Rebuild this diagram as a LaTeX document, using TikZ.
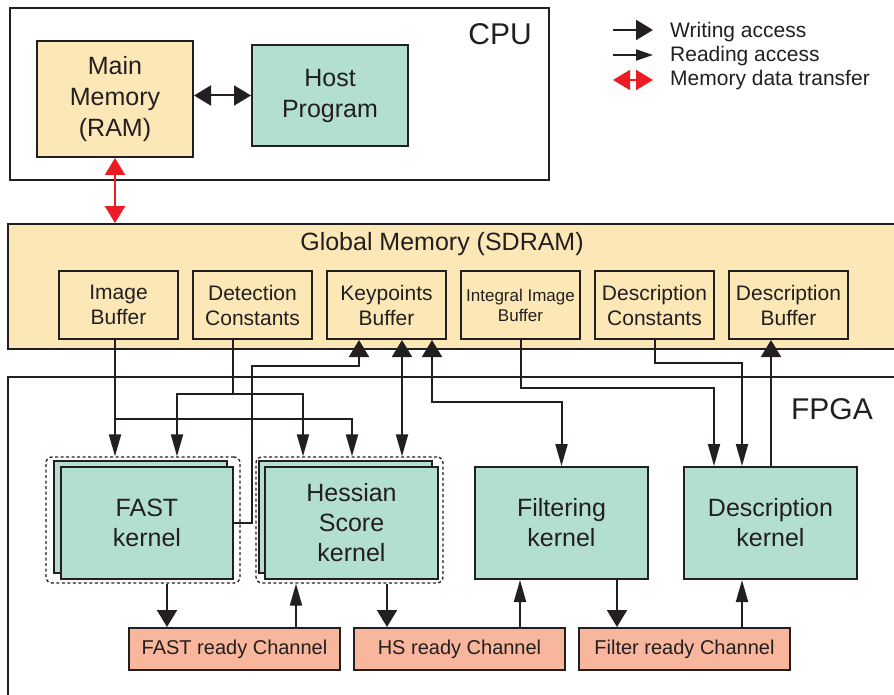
\documentclass[tikz,border=0pt]{standalone}
\usepackage{fontspec}
\setmainfont{Liberation Sans}
\usetikzlibrary{arrows.meta}
\definecolor{ink}{HTML}{231F20}
\definecolor{memfill}{HTML}{FCE8B6}
\definecolor{kernfill}{HTML}{B3DFCF}
\definecolor{chanfill}{HTML}{F8B69C}
\definecolor{xferred}{HTML}{EC1C24}
\tikzset{
	box/.style={draw=ink, line width=2pt, inner sep=0pt, align=center, text=ink},
	bufbox/.style={box, fill=memfill, minimum width=119pt, minimum height=68pt, font=\fontsize{21}{25}\selectfont},
	kernbox/.style={box, fill=kernfill, minimum width=173pt, minimum height=112pt, font=\fontsize{25}{30}\selectfont},
	chanbox/.style={box, fill=chanfill, minimum width=211pt, minimum height=42pt, font=\fontsize{20}{24}\selectfont},
	kgroup/.style={draw=ink, line width=1.3pt, dash pattern=on 3pt off 2.5pt, rounded corners=6pt, inner sep=0pt, minimum height=126pt},
	outline/.style={draw=ink, line width=1.8pt},
	lbl/.style={text=ink, inner sep=0pt},
	wr/.style={draw=ink, line width=2pt, -{Triangle[length=17pt,width=20pt]}},
	rd/.style={draw=ink, line width=2pt, -{Triangle[length=22pt,width=12pt]}},
	rdwr/.style={draw=ink, line width=2pt, {Triangle[length=22pt,width=12pt]}-{Triangle[length=17pt,width=20pt]}},
	wrwr/.style={draw=ink, line width=2pt, {Triangle[length=17pt,width=20pt]}-{Triangle[length=17pt,width=20pt]}},
	xfer/.style={draw=xferred, line width=2pt, {Triangle[length=17pt,width=20pt]}-{Triangle[length=17pt,width=20pt]}},
}
\begin{document}
\begin{tikzpicture}[x=1pt,y=-1pt]
	\useasboundingbox (0,0) rectangle (894,695);
	\draw [outline] (10,8) rectangle (549,180);
	\draw [outline] (8,377) rectangle (910,710);
	\node [lbl, anchor=base east, font=\fontsize{30}{36}\selectfont] (cpulbl) at (532,45) {CPU};
	\node [lbl, anchor=base east, font=\fontsize{30}{36}\selectfont] (fpgalbl) at (873,419) {FPGA};
	\node [box, fill=memfill, minimum width=156pt, minimum height=116pt, font=\fontsize{25}{31}\selectfont] (ram) at (115,99) {Main\\Memory\\(RAM)};
	\node [box, fill=kernfill, minimum width=156pt, minimum height=101pt, font=\fontsize{25}{31}\selectfont] (host) at (330,95.5) {Host\\Program};
	\draw [wrwr] (host.west -| ram.east) -- (host.west);
	\node [box, fill=memfill, line width=1.8pt, minimum width=892pt, minimum height=125pt] (gmem) at (454,286.5) {};
	\node [lbl, anchor=base, font=\fontsize{25}{30}\selectfont] (gmemlbl) at (442,251) {Global Memory (SDRAM)};
	\draw [xfer] (ram.south) -- (ram.south |- gmem.north);
	\node [bufbox] (imgbuf) at (118.5,305) {Image\\Buffer};
	\node [bufbox] (detconst) at (252.5,305) {Detection\\Constants};
	\node [bufbox] (kpbuf) at (386.5,305) {Keypoints\\Buffer};
	\node [bufbox, font=\fontsize{17}{20}\selectfont] (intbuf) at (520.5,305) {Integral Image\\Buffer};
	\node [bufbox] (descconst) at (654.5,305) {Description\\Constants};
	\node [bufbox] (descbuf) at (788.5,305) {Description\\Buffer};
	\node [kgroup, minimum width=194pt] (fastgrp) at (143,520) {};
	\node [kernbox] (fastback) at (140.5,517) {};
	\node [kernbox, minimum width=172pt] (fastk) at (147,523) {FAST\\kernel};
	\node [kgroup, minimum width=187pt] (hesgrp) at (349.5,520) {};
	\node [kernbox] (hesback) at (345.5,517) {};
	\node [kernbox] (hesk) at (351.5,523) {Hessian\\Score\\kernel};
	\node [kernbox] (filtk) at (561.5,523) {Filtering\\kernel};
	\node [kernbox] (desck) at (770.5,523) {Description\\kernel};
	\node [chanbox] (fastch) at (234.5,649) {FAST ready Channel};
	\node [chanbox] (hsch) at (459.5,649) {HS ready Channel};
	\node [chanbox] (filtch) at (684.5,649) {Filter ready Channel};
	\coordinate (imgfork) at (115,419);
	\coordinate (detfork) at (233,394);
	\draw [rd] (imgbuf.south -| imgfork) -- (fastgrp.north -| imgfork);
	\draw [rd] (imgfork) -| (hesgrp.north -| 352,0);
	\draw [line width=2pt, ink] (detconst.south -| detfork) -- (detfork);
	\draw [rd] (detfork) -| (fastgrp.north -| 177,0);
	\draw [rd] (detfork) -| (hesgrp.north -| 303,0);
	\draw [wr] (fastk.east) -- (252,523) -- (252,366) -| (kpbuf.south -| 359,0);
	\draw [rdwr] (hesgrp.north -| 402,0) -- (kpbuf.south -| 402,0);
	\draw [rdwr] (filtk.north) |- (432,402) -- (kpbuf.south -| 432,0);
	\draw [rd] (intbuf.south) |- (714,388) -- (desck.north -| 714,0);
	\draw [rd] (descconst.south) |- (742,363) -- (desck.north -| 742,0);
	\draw [wr] (desck.north -| 771,0) -- (descbuf.south -| 771,0);
	\draw [wr] (fastgrp.south -| 167,0) -- (fastch.north -| 167,0);
	\draw [rd] (fastch.north -| 296,0) -- (hesgrp.south -| 296,0);
	\draw [wr] (hesgrp.south -| 387,0) -- (hsch.north -| 387,0);
	\draw [rd] (hsch.north -| 520,0) -- (filtk.south -| 520,0);
	\draw [wr] (filtk.south -| 617,0) -- (filtch.north -| 617,0);
	\draw [rd] (filtch.north -| 742,0) -- (desck.south -| 742,0);
	\node [lbl, anchor=base west, font=\fontsize{21}{25}\selectfont] (lgwr) at (670,38) {Writing access};
	\node [lbl, anchor=base west, font=\fontsize{21}{25}\selectfont] (lgrd) at (670,62) {Reading access};
	\node [lbl, anchor=base west, font=\fontsize{21}{25}\selectfont] (lgxf) at (670,86) {Memory data transfer};
	\draw [wr] (613,30) -- (653,30);
	\draw [rd, -{Triangle[length=17pt,width=11pt]}] (613,55) -- (653,55);
	\draw [xfer] (613,80) -- (653,80);
\end{tikzpicture}
\end{document}
